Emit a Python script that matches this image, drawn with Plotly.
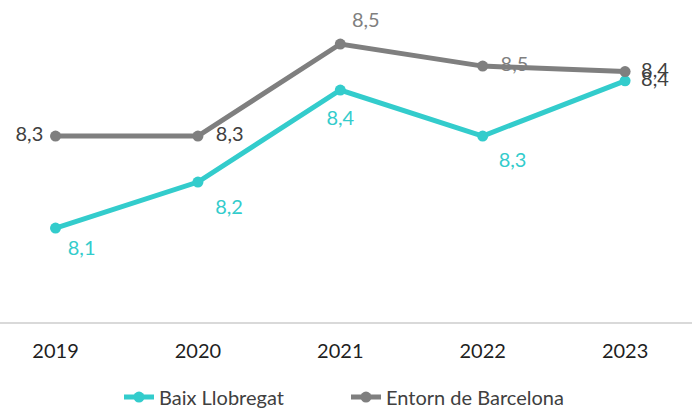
import plotly.graph_objects as go

# data
years = ["2019", "2020", "2021", "2022", "2023"]
baix = [8.1, 8.2, 8.4, 8.3, 8.42]
entorn = [8.3, 8.3, 8.5, 8.452, 8.44]

TURQ = "#33CCCC"
GREY = "#7F7F7F"
DARK = "#404040"
FONT = "Lato, Calibri, sans-serif"

# label placement per point: side of the point, spacer size (sets the gap), colour
baix_pos = ["bottom right", "bottom right", "bottom center", "bottom right", "middle right"]
baix_gap = [18, 26, 30, 24, 24]
baix_col = [TURQ, TURQ, TURQ, TURQ, DARK]
entorn_pos = ["middle left", "middle right", "top right", "middle right", "middle right"]
entorn_gap = [18, 27, 17, 27, 24]
entorn_col = [DARK, DARK, GREY, GREY, DARK]

fig = go.Figure()
fig.add_trace(go.Scatter(x=years, y=baix, name="Baix Llobregat", mode="lines+markers",
                         line=dict(color=TURQ, width=5), marker=dict(size=11, color=TURQ)))
fig.add_trace(go.Scatter(x=years, y=entorn, name="Entorn de Barcelona", mode="lines+markers",
                         line=dict(color=GREY, width=5), marker=dict(size=11, color=GREY)))

# data labels: text on invisible markers, the marker size pushes the text away
for vals, pos, gap, cols in [(baix, baix_pos, baix_gap, baix_col),
                             (entorn, entorn_pos, entorn_gap, entorn_col)]:
    fig.add_trace(go.Scatter(x=years, y=vals, mode="markers+text", showlegend=False,
                             hoverinfo="skip", texttemplate="%{y:.1f}", textposition=pos,
                             marker=dict(size=gap, opacity=0),
                             textfont=dict(size=20, color=cols, family=FONT), cliponaxis=False))

fig.update_layout(
    width=692, height=412,
    margin=dict(l=0, r=0, t=0, b=90, autoexpand=False),
    plot_bgcolor="white", paper_bgcolor="white",
    font=dict(family=FONT, color=DARK),
    separators=",.",
    showlegend=True,
    legend=dict(orientation="h", x=0.5, xanchor="center", y=-0.233, yanchor="middle",
                font=dict(size=20, color=DARK), entrywidth=182),
)
fig.update_xaxes(type="category", range=[-0.39, 4.47], showgrid=False, showline=True,
                 linecolor="#D9D9D9", linewidth=1.5, ticks="outside", ticklen=10,
                 tickcolor="rgba(0,0,0,0)", tickfont=dict(size=20, color="#1F1F1F"))
fig.update_yaxes(range=[7.8957, 8.5957], showticklabels=False, showline=False,
                 showgrid=False, zeroline=False)

# page body has an 8px default margin, drop it so the chart sits at 0,0
fig.write_html("out.html", config={"displayModeBar": False},
               post_script="document.body.style.margin='0';")
